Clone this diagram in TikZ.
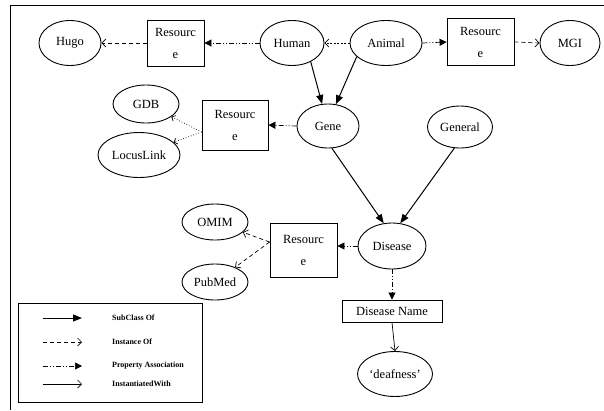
\documentclass[tikz,border=0pt]{standalone}
\usepackage{fontspec}
\setmainfont{Liberation Serif}
\usetikzlibrary{shapes.geometric,arrows.meta}

\tikzset{
  cls/.style={draw,ellipse,line width=0.9pt,inner sep=0pt,font=\fontsize{12.5}{14}\selectfont},
  res/.style={draw,rectangle,line width=0.8pt,inner sep=0pt,align=center,font=\fontsize{12.5}{22}\selectfont},
  subcls/.style={line width=1pt,-{Triangle[length=9pt,width=7pt]}},
  inst/.style={line width=0.7pt,dash pattern=on 4pt off 3pt,-{Straight Barb[length=4pt,width=8pt]}},
  prop/.style={line width=0.7pt,dash pattern=on 5pt off 2pt on 1pt off 2pt on 1pt off 2pt,-{Triangle[length=7pt,width=7pt]}},
  instw/.style={line width=0.7pt,-{Straight Barb[length=4pt,width=8pt]}},
  assoc/.style={line width=0.7pt,dotted,-{Straight Barb[length=3pt,width=6pt]}},
}

\begin{document}
\begin{tikzpicture}[x=1pt,y=-1pt]
\useasboundingbox (0,0) rectangle (604,410);

%frame, top and left side only
\draw [line width=0.8pt] (10,410) -- (10,5) -- (604,5);

%top row
\node [cls,minimum width=62pt,minimum height=45pt] (hugo) at (70,43) {Hugo};
\node [res,minimum width=57pt,minimum height=46pt] (res1) at (175.5,43) {Resourc\\e};
\node [cls,minimum width=64pt,minimum height=45pt] (human) at (292,43) {Human};
\node [cls,minimum width=72pt,minimum height=45pt] (animal) at (386,43) {Animal};
\node [res,minimum width=67pt,minimum height=47pt] (res2) at (480.5,42) {Resourc\\e};
\node [cls,minimum width=60pt,minimum height=45pt] (mgi) at (570,43) {MGI};

%gene level
\node [cls,minimum width=66pt,minimum height=38pt] (gdb) at (146,104) {GDB};
\node [cls,minimum width=82pt,minimum height=45pt] (locus) at (139,155) {LocusLink};
\node [res,minimum width=66pt,minimum height=50pt] (res3) at (235,125) {Resourc\\e};
\node [cls,minimum width=62pt,minimum height=44pt] (gene) at (328,126) {Gene};
\node [cls,minimum width=65pt,minimum height=42pt] (general) at (460,127) {General};

%disease level
\node [cls,minimum width=66pt,minimum height=36pt] (omim) at (215,222) {OMIM};
\node [cls,minimum width=66pt,minimum height=36pt] (pubmed) at (215,282) {PubMed};
\node [res,minimum width=67pt,minimum height=54pt] (res4) at (303.5,250) {Resourc\\e};
\node [cls,minimum width=68pt,minimum height=46pt] (disease) at (392,246) {Disease};
\node [res,minimum width=100pt,minimum height=22pt] (dname) at (392,311) {Disease Name};
\node [cls,minimum width=75pt,minimum height=45pt] (deaf) at (395,374) {`deafness'};

%connectors
\draw [prop] (human.west) -- (res1.east);
\draw [inst] (res1.west) -- (hugo.east);
\draw [inst,dash pattern=on 2pt off 1.5pt] (animal.west) -- (human.east);
\draw [prop] (animal.east) -- (res2.west);
\draw [inst] (res2.east) -- (mgi.west);
\draw [subcls] (human.-45) -- (gene.105);
\draw [subcls] (animal.-155) -- (gene.70);
\draw [prop] (gene.west) -- (res3.east);
\draw [assoc] ([yshift=-7pt]res3.west) -- (gdb);
\draw [assoc] ([yshift=-7pt]res3.west) -- (locus);
\draw [subcls] (gene.-80) -- (disease.110);
\draw [subcls] (general.-105) -- (disease.70);
\draw [prop] (disease.west) -- (disease.west -| res4.east);
\draw [inst] ([yshift=8pt]res4.west) -- (omim);
\draw [inst] ([yshift=8pt]res4.west) -- (pubmed);
\draw [prop] (disease.south) -- (dname.north);
\draw [instw] (dname.south) -- (deaf.north);

%legend
\node [draw,line width=0.8pt,minimum width=184pt,minimum height=99pt] (legend) at (110,352.5) {};
\foreach \i/\yy/\sty/\txt in {1/318/subcls/SubClass Of,2/342/inst/Instance Of,3/366/prop/Property Association,4/384/instw/InstantiatedWith}{
  \coordinate (la\i) at (43,\yy);
  \coordinate (lb\i) at (82,\yy);
  \draw [\sty] (la\i) -- (lb\i);
  \node [anchor=west,inner sep=0pt,font=\fontsize{8}{9}\selectfont\bfseries] (lt\i) at (112,\yy) {\txt};
}

\end{tikzpicture}
\end{document}
